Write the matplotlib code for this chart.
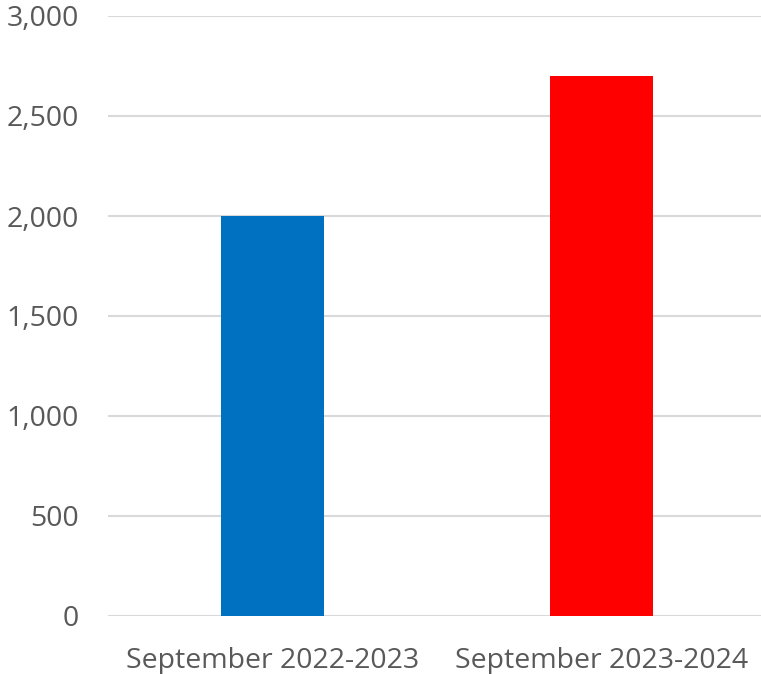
import matplotlib

matplotlib.use("Agg")
import matplotlib.pyplot as plt

categories = ["September 2022-2023", "September 2023-2024"]
values = [2000, 2700]
bar_colors = ["#0070C0", "#FF0000"]
y_ticks = [0, 500, 1000, 1500, 2000, 2500, 3000]

plt.rcParams["font.family"] = ["Open Sans", "DejaVu Sans"]

fig = plt.figure(figsize=(7.61, 6.74), dpi=100)
ax = fig.add_axes([108 / 761, 58 / 674, 658 / 761, 600 / 674])

x = list(range(len(categories)))
ax.bar(x, values, width=0.316, color=bar_colors, zorder=3)

ax.set_xlim(-0.5, len(categories) - 0.5)
ax.set_ylim(0, 3000)
ax.set_yticks(y_ticks)
ax.set_yticklabels([f"{v:,}" for v in y_ticks])
ax.set_xticks(x)
ax.set_xticklabels(categories)

ax.grid(axis="y", color="#D9D9D9", linewidth=1.5, zorder=0)
for side in ("top", "right", "left", "bottom"):
    ax.spines[side].set_visible(False)
ax.tick_params(axis="both", length=0, labelsize=20.5, colors="#595959")
ax.tick_params(axis="y", pad=21)
ax.tick_params(axis="x", pad=22)

fig.savefig("out.png", dpi=100)
plt.close(fig)
